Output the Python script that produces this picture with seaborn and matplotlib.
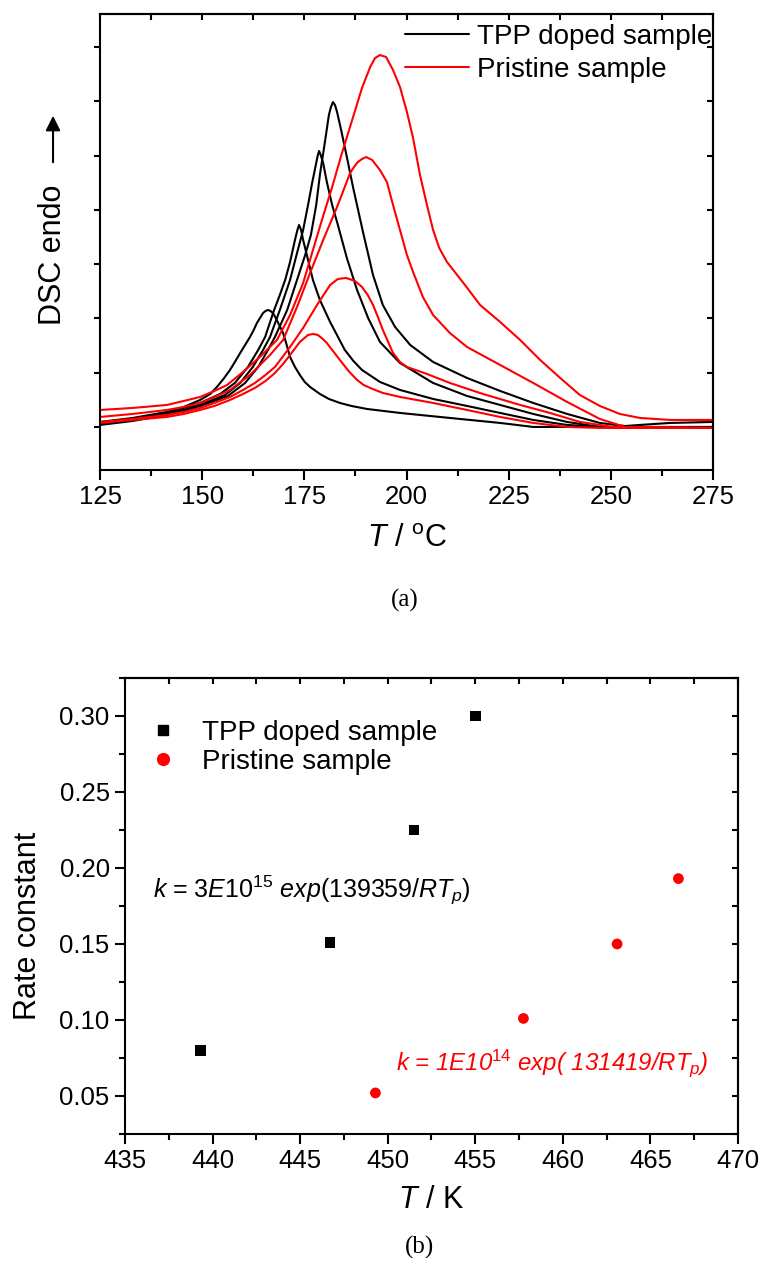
import numpy as np
import pandas as pd
import seaborn as sns
import matplotlib.pyplot as plt
from matplotlib.lines import Line2D
from matplotlib.ticker import MultipleLocator, FixedLocator

# --- DSC curves: temperature (degC) and heat flow (arbitrary units) ---
tpp1_T = [125.0, 133.0, 141.4, 145.5, 149.5, 152.0, 153.6, 155.2, 156.8, 158.0, 159.3, 160.5, 161.7, 162.6,
          163.4, 164.9, 165.5, 166.1, 166.7, 167.3, 168.0, 168.6, 169.8, 170.6, 171.5, 172.7, 173.9, 175.1,
          176.4, 178.8, 181.0, 183.7, 186.5, 190.3, 198.4, 210.6, 222.9, 231.0, 240.0, 250.5, 257.1, 264.5,
          275.0]
tpp1_q = [48, 52, 58, 63, 70, 76, 83, 91, 100, 108, 117, 125, 133, 140,
          147, 157, 159, 160, 159, 157, 152, 147, 137, 126, 113, 103, 95, 88,
          83, 76, 71, 67, 64, 61, 57, 52, 47, 43, 43, 43, 45, 47,
          48]

tpp2_T = [125.0, 133.0, 141.4, 145.5, 149.5, 154.4, 158.0, 161.2, 163.7, 165.4, 167.6, 169.0, 170.3, 171.5,
          172.7, 173.3, 173.7, 174.2, 174.7, 175.9, 177.1, 178.8, 181.3, 184.9, 187.0, 189.1, 193.5, 198.4,
          206.5, 214.8, 222.9, 231.0, 239.3, 247.3, 275.0]
tpp2_q = [47, 51, 57, 62, 67, 76, 87, 103, 120, 133, 160, 175, 190, 208,
          230, 240, 245, 240, 230, 210, 190, 170, 148, 120, 109, 100, 88, 80,
          71, 64, 57, 50, 45, 43, 42]

tpp3_T = [125.0, 133.0, 141.4, 145.5, 149.5, 155.6, 159.3, 162.4, 164.9, 166.6, 169.0, 171.5, 173.4, 174.7,
          175.9, 176.9, 177.9, 178.3, 178.6, 179.0, 179.6, 180.5, 181.8, 183.0, 185.4, 187.9, 190.6, 193.5,
          198.4, 206.5, 214.8, 222.9, 231.0, 239.3, 247.3, 275.0]
tpp3_q = [46, 50, 56, 60, 65, 75, 87, 103, 120, 133, 160, 190, 220, 240,
          265, 287, 307, 315, 319, 315, 307, 288, 265, 248, 212, 180, 152, 128,
          107, 87, 74, 65, 56, 48, 43, 42]

tpp4_T = [125.0, 133.0, 141.4, 145.5, 149.5, 156.3, 160.5, 163.7, 166.1, 167.8, 170.8, 173.2, 175.2, 176.6,
          177.9, 178.8, 180.1, 181.0, 181.5, 182.0, 182.5, 183.0, 184.0, 185.4, 186.9, 189.4, 191.8, 194.2,
          197.2, 200.9, 206.5, 214.8, 222.9, 231.0, 239.3, 247.3, 255.4, 275.0]
tpp4_q = [45, 49, 55, 59, 64, 74, 87, 103, 120, 133, 160, 190, 215, 235,
          265, 295, 330, 355, 363, 368, 365, 358, 340, 313, 283, 237, 195, 165,
          143, 125, 108, 92, 79, 67, 56, 47, 43, 43]

pri1_T = [125.0, 133.0, 141.4, 145.5, 149.5, 153.0, 156.8, 160.0, 162.9, 165.5, 167.8, 169.8, 171.5, 173.9,
          175.9, 177.1, 178.3, 179.5, 180.5, 182.0, 183.7, 185.8, 187.9, 189.5, 191.1, 194.2, 198.4, 206.5,
          214.8, 222.9, 231.0, 239.3, 247.3, 275.0]
pri1_q = [47, 50, 53, 56, 60, 64, 70, 76, 82, 89, 97, 106, 115, 128,
          135, 136, 135, 131, 127, 119, 110, 99, 90, 85, 82, 77, 73, 67,
          60, 53, 47, 43, 42, 42]

pri2_T = [125.0, 133.0, 141.4, 145.5, 149.5, 153.0, 156.8, 160.0, 162.9, 165.5, 167.8, 171.5, 174.7, 178.1,
          181.3, 183.2, 185.2, 187.4, 189.1, 190.5, 191.8, 193.0, 194.2, 196.7, 198.4, 200.1, 205.0, 210.6,
          218.7, 227.8, 235.1, 242.4, 250.5, 275.0]
pri2_q = [48, 51, 55, 58, 62, 67, 73, 80, 87, 95, 103, 123, 142, 165,
          185, 191, 192, 189, 183, 175, 165, 153, 140, 117, 108, 103, 96, 87,
          76, 65, 57, 48, 43, 42]

pri3_T = [125.0, 133.0, 141.4, 145.5, 149.5, 153.0, 156.8, 161.7, 166.6, 169.8, 173.2, 176.4, 179.6, 183.0,
          186.2, 187.3, 188.1, 189.1, 190.1, 191.6, 193.5, 195.2, 196.7, 198.4, 200.1, 201.6, 204.0, 206.5,
          210.6, 214.8, 222.9, 231.0, 239.3, 247.3, 253.5, 275.0]
pri3_q = [53, 56, 60, 63, 67, 73, 80, 95, 115, 130, 163, 197, 230, 263,
          297, 304, 308, 311, 313, 310, 300, 288, 265, 240, 215, 198, 173, 155,
          137, 123, 105, 87, 68, 51, 43, 42]

pri4_T = [125.0, 133.0, 141.4, 145.5, 149.5, 153.0, 156.1, 160.0, 164.1, 168.3, 171.5, 174.7, 177.1, 179.3,
          181.8, 184.2, 186.7, 189.1, 191.1, 192.3, 193.5, 195.0, 196.7, 198.4, 200.1, 201.6, 203.3, 205.0,
          206.5, 208.0, 209.9, 214.3, 218.0, 222.9, 227.8, 232.7, 237.6, 242.4, 247.3, 252.2, 257.1, 264.5,
          275.0]
pri4_q = [60, 62, 65, 69, 73, 79, 85, 98, 113, 130, 155, 187, 220, 250,
          283, 317, 350, 382, 403, 412, 415, 413, 400, 383, 358, 332, 295, 265,
          240, 222, 208, 185, 165, 148, 130, 110, 92, 75, 64, 56, 52, 50,
          50]

# --- Rate constants vs peak temperature ---
tpp_Tp = [439.3, 446.7, 451.5, 455.0]
tpp_k = [0.080, 0.151, 0.225, 0.300]
pri_Tp = [449.3, 457.75, 463.1, 466.6]
pri_k = [0.052, 0.101, 0.150, 0.193]

labels = ["TPP doped sample", "Pristine sample"]
colors = {"TPP doped sample": "black", "Pristine sample": "#ff0000"}

runs = {
    "TPP doped sample": [(tpp1_T, tpp1_q), (tpp2_T, tpp2_q), (tpp3_T, tpp3_q), (tpp4_T, tpp4_q)],
    "Pristine sample": [(pri1_T, pri1_q), (pri2_T, pri2_q), (pri3_T, pri3_q), (pri4_T, pri4_q)],
}
frames = []
for name, curves in runs.items():
    for i, (t, q) in enumerate(curves):
        frames.append(pd.DataFrame({"T": t, "q": q, "sample": name, "run": f"{name} {i}"}))
dsc = pd.concat(frames, ignore_index=True)

rate = pd.DataFrame({
    "Tp": tpp_Tp + pri_Tp,
    "k": tpp_k + pri_k,
    "sample": [labels[0]] * len(tpp_Tp) + [labels[1]] * len(pri_Tp),
})

# --- Styling ---
sns.set_style("ticks")
plt.rcParams["font.family"] = ["Liberation Sans", "DejaVu Sans"]
plt.rcParams["mathtext.fontset"] = "custom"
plt.rcParams["mathtext.rm"] = "Liberation Sans"
plt.rcParams["mathtext.it"] = "Liberation Sans:italic"
plt.rcParams["axes.linewidth"] = 1.5
for key in ["axes.edgecolor", "text.color", "axes.labelcolor", "xtick.color", "ytick.color"]:
    plt.rcParams[key] = "black"

fig = plt.figure(figsize=(7.63, 12.77), dpi=100)
ax1 = fig.add_axes([0.1311, 0.6320, 0.8034, 0.3570])
ax2 = fig.add_axes([0.1638, 0.1120, 0.8034, 0.3571])


def frame_ticks(ax, xmaj, xmin, yloc_major, yloc_minor=None, ylabels=True):
    ax.xaxis.set_major_locator(MultipleLocator(xmaj))
    ax.xaxis.set_minor_locator(MultipleLocator(xmin))
    ax.yaxis.set_major_locator(yloc_major)
    if yloc_minor is not None:
        ax.yaxis.set_minor_locator(yloc_minor)
    ax.tick_params(which="major", direction="out", length=7, width=1.5, labelsize=18.5, pad=4)
    ax.tick_params(which="minor", direction="out", length=4, width=1.5)
    if not ylabels:
        ax.tick_params(axis="y", labelleft=False, length=4)
    top = ax.secondary_xaxis("top")
    top.xaxis.set_major_locator(MultipleLocator(xmin))
    top.tick_params(direction="in", length=4, width=1.5, labeltop=False)
    right = ax.secondary_yaxis("right")
    right.yaxis.set_major_locator(yloc_major)
    if yloc_minor is not None:
        right.yaxis.set_minor_locator(yloc_minor)
    right.tick_params(which="both", direction="in", length=4, width=1.5, labelright=False)
    for sp in ax.spines.values():
        sp.set_linewidth(1.5)


# --- Panel (a): DSC curves ---
sns.lineplot(data=dsc, x="T", y="q", hue="sample", units="run", estimator=None, sort=False,
             palette=colors, linewidth=1.5, legend=False, ax=ax1)
ax1.set_xlim(125, 275)
ax1.set_ylim(0, 456)
frame_ticks(ax1, 25, 12.5, FixedLocator(np.arange(43, 456, 54.3)), ylabels=False)
ax1.set_xlabel(r"$T$ / $^{\mathrm{o}}$C", fontsize=22)
ax1.xaxis.set_label_coords(0.5, -0.118)
ax1.set_ylabel("DSC endo", fontsize=22)
ax1.yaxis.set_label_coords(-0.052, 0.4715)
ax1.annotate("", xy=(0.0695, 0.9115), xytext=(0.0695, 0.8708), xycoords="figure fraction",
             arrowprops=dict(arrowstyle="-|>", color="black", lw=1.5, mutation_scale=22))
h1 = [Line2D([], [], color=colors[l], lw=1.5) for l in labels]
ax1.legend(h1, labels, loc="upper left", bbox_to_anchor=(0.4976, 0.978), frameon=False, fontsize=20,
           handlelength=2.3, handletextpad=0.3, labelspacing=0.25, borderpad=0, borderaxespad=0)

# --- Panel (b): rate constants ---
sns.scatterplot(data=rate, x="Tp", y="k", hue="sample", style="sample", palette=colors,
                markers={labels[0]: "s", labels[1]: "o"}, s=60, edgecolor="none", legend=False, ax=ax2)
ax2.set_xlim(435, 470)
ax2.set_ylim(0.025, 0.325)
frame_ticks(ax2, 5, 2.5, MultipleLocator(0.05), MultipleLocator(0.025))
ax2.yaxis.set_major_formatter(plt.FormatStrFormatter("%.2f"))
ax2.set_xlabel(r"$T$ / K", fontsize=22)
ax2.xaxis.set_label_coords(0.5, -0.112)
ax2.set_ylabel("Rate constant", fontsize=22)
ax2.yaxis.set_label_coords(-0.134, 0.456)
h2 = [Line2D([], [], color=colors[labels[0]], marker="s", ls="none", markersize=7.5),
      Line2D([], [], color=colors[labels[1]], marker="o", ls="none", markersize=8.5)]
ax2.legend(h2, labels, loc="upper left", bbox_to_anchor=(0.039, 0.908), frameon=False, fontsize=20,
           handlelength=1.0, handletextpad=0.9, labelspacing=0.1, borderpad=0, borderaxespad=0)
ax2.text(436.6, 0.1855, r"$k$ = 3$E$10$^{15}$ $exp$(139359/$RT_p$)", fontsize=18, va="center")
ax2.text(450.5, 0.0717, r"k = 1E10$^{\mathit{14}}$ exp( 131419/RT$_{\mathit{p}}$)", fontsize=17.3,
         va="center", color="#ff0000", style="italic")

# --- Panel captions ---
fig.text(405 / 763, 1 - 600 / 1277, "(a)", ha="center", va="center", fontsize=18,
         family=["Liberation Serif", "DejaVu Serif"])
fig.text(420 / 763, 1 - 1247 / 1277, "(b)", ha="center", va="center", fontsize=18,
         family=["Liberation Serif", "DejaVu Serif"])

fig.savefig("out.png", dpi=100)
plt.close(fig)
